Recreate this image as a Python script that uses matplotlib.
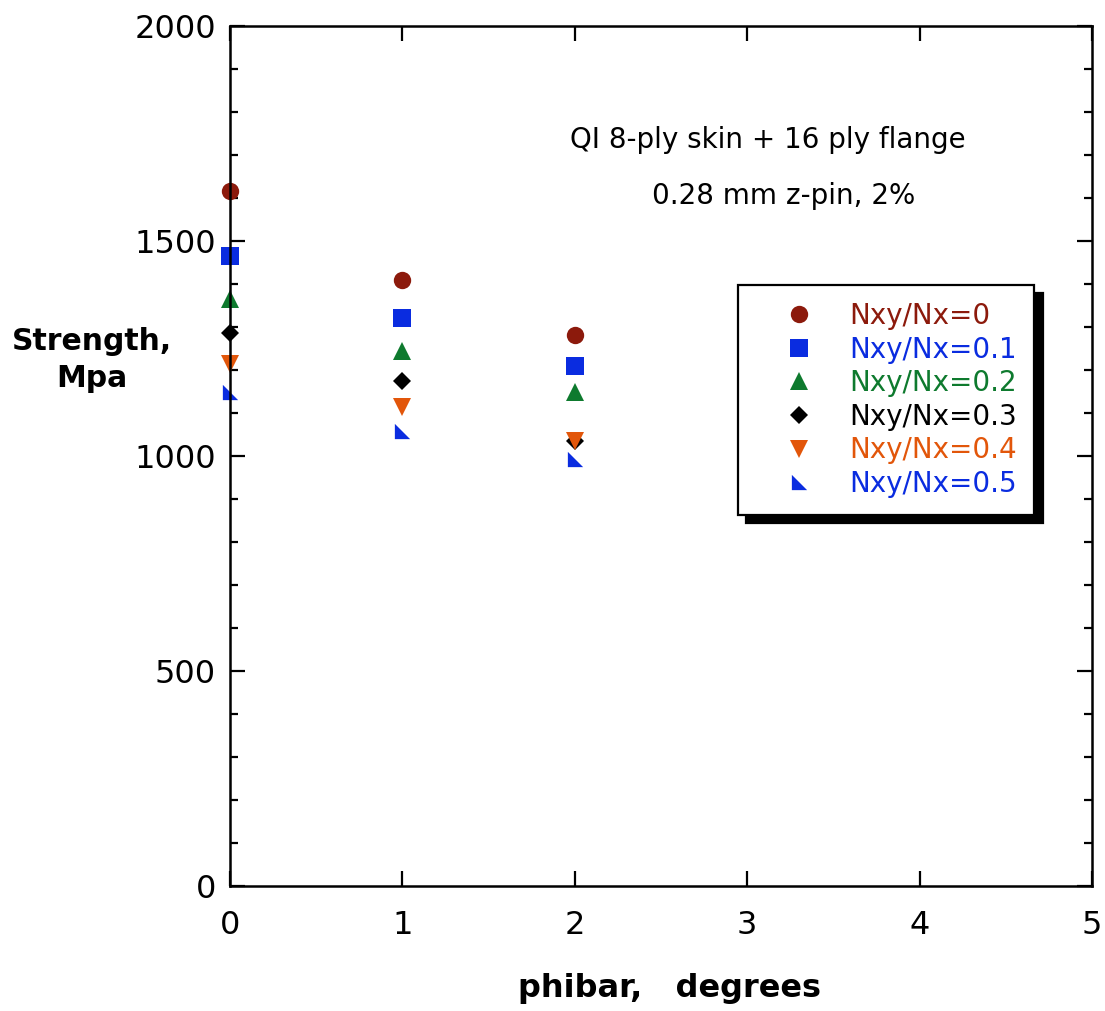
import numpy as np
import matplotlib
matplotlib.use("Agg")
import matplotlib.pyplot as plt
from matplotlib.ticker import MultipleLocator

plt.rcParams["font.family"] = ["DejaVu Sans"]

phibar = [0, 1, 2]
ratios = ["0", "0.1", "0.2", "0.3", "0.4", "0.5"]
strength = {
    "0":   [1617, 1410, 1282],
    "0.1": [1466, 1322, 1210],
    "0.2": [1366, 1245, 1150],
    "0.3": [1285, 1175, 1034],
    "0.4": [1213, 1115, 1036],
    "0.5": [1148, 1059, 994],
}
colors = ["#8c1a0c", "#0a2ce0", "#0e7a2e", "black", "#e2560a", "#0a2ce0"]

# right triangle: vertical left side, flat bottom
corner_tri = [(-1, 1), (-1, -1), (1, -1), (-1, 1)]
markers = ["o", "s", "^", "D", "v", corner_tri]
sizes = [12.5, 12.5, 12.5, 9, 12.5, 11]

fig = plt.figure(figsize=(11.05, 10.11), dpi=100)
ax = fig.add_axes([0.2081, 0.1236, 0.7801, 0.8507])

for r, c, m, s in zip(ratios, colors, markers, sizes):
    ax.plot(phibar, strength[r], linestyle="none", marker=m, markersize=s,
            color=c, markeredgewidth=0, label="Nxy/Nx=" + r, clip_on=False)

ax.set_xlim(0, 5)
ax.set_ylim(0, 2000)
ax.xaxis.set_major_locator(MultipleLocator(1))
ax.yaxis.set_major_locator(MultipleLocator(500))
ax.yaxis.set_minor_locator(MultipleLocator(100))
ax.tick_params(which="both", direction="in", top=True, right=True, width=1.6)
ax.tick_params(which="major", length=11, labelsize=23)
ax.tick_params(which="minor", length=6)
ax.tick_params(axis="x", pad=17)
ax.tick_params(axis="y", pad=10)
for sp in ax.spines.values():
    sp.set_linewidth(1.8)

ax.text(0.624, 0.867, "QI 8-ply skin + 16 ply flange", transform=ax.transAxes,
        ha="center", va="center", fontsize=20)
ax.text(0.642, 0.802, "0.28 mm z-pin, 2%", transform=ax.transAxes,
        ha="center", va="center", fontsize=20)

leg = ax.legend(loc="upper left", bbox_to_anchor=(0.589, 0.699), borderaxespad=0,
                fontsize=20, numpoints=1, handlelength=3.2, handletextpad=0.2,
                borderpad=0.62, labelspacing=0.2, fancybox=False,
                shadow={"color": "black", "alpha": 1, "ox": 6, "oy": -6})
leg.get_frame().set_edgecolor("black")
leg.get_frame().set_linewidth(1.6)
leg.get_frame().set_alpha(1)
for txt, c in zip(leg.get_texts(), colors):
    txt.set_color(c)

fig.text(92 / 1105, 1 - 360 / 1011, "Strength,\nMpa", ha="center", va="center",
         fontsize=21.5, fontweight="bold", multialignment="center", linespacing=1.35)
fig.text(669 / 1105, 1 - 988 / 1011, "phibar,   degrees", ha="center", va="center",
         fontsize=23, fontweight="bold")

fig.savefig("out.png", dpi=100)
